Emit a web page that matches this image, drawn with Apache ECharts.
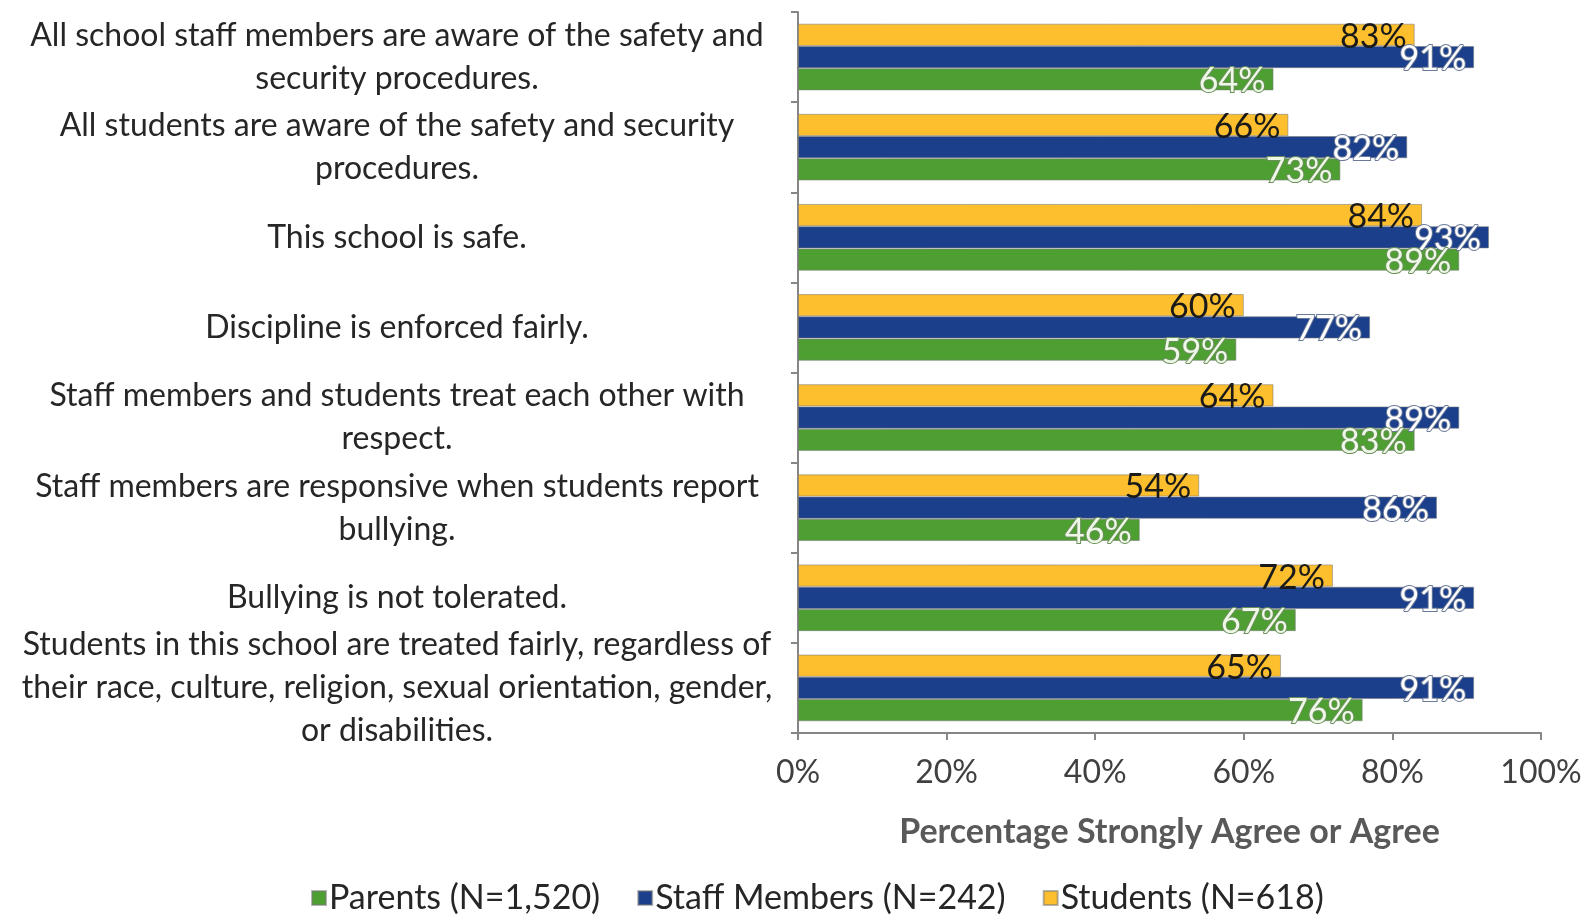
<!DOCTYPE html>
<html>
<head>
<meta charset="utf-8">
<script src="https://cdn.jsdelivr.net/npm/echarts@6/dist/echarts.min.js"></script>
<style>
    html, body { margin: 0; padding: 0; background: #fff; }
    #chart { width: 1596px; height: 915px; }
</style>
</head>
<body>
<div id="chart"></div>
<script>
var categories = [
    'All school staff members are aware of the safety and\nsecurity procedures.',
    'All students are aware of the safety and security\nprocedures.',
    'This school is safe.',
    'Discipline is enforced fairly.',
    'Staff members and students treat each other with\nrespect.',
    'Staff members are responsive when students report\nbullying.',
    'Bullying is not tolerated.',
    'Students in this school are treated fairly, regardless of\ntheir race, culture, religion, sexual orientation, gender,\nor disabilities.'
];
var studentsValues = [83, 66, 84, 60, 64, 54, 72, 65];
var staffValues    = [91, 82, 93, 77, 89, 86, 91, 91];
var parentsValues  = [64, 73, 89, 59, 83, 46, 67, 76];
var seriesNames    = ['Parents (N=1,520)', 'Staff Members (N=242)', 'Students (N=618)'];
var xTicks         = [0, 20, 40, 60, 80, 100];

var FONT = 'Lato';

/* Build one bar series, bars sit in series order from top to bottom. */
function makeSeries(name, values, color, labelStyle)
{
    return {
        name: name,
        type: 'bar',
        data: values,
        barGap: '0%',
        barCategoryGap: '26%',
        itemStyle: {color: color, borderColor: 'rgba(120,120,120,0.55)', borderWidth: 1},
        label: Object.assign({
            show: true,
            position: 'insideRight',
            distance: 8,
            offset: [0, 2],
            fontFamily: FONT,
            fontSize: 34,
            formatter: '{c}%'
        }, labelStyle)
    };
}

var chart = echarts.init(document.getElementById('chart'));
chart.setOption({
    animation: false,
    grid: {left: 798, right: 55, top: 12, bottom: 182, containLabel: false},
    legend: {
        data: seriesNames,
        left: 306,
        top: 876,
        itemWidth: 14,
        itemHeight: 14,
        itemGap: 37,
        icon: 'rect',
        textStyle: {fontFamily: FONT, fontSize: 34, color: '#262626', padding: [0, 0, 0, -2]}
    },
    xAxis: {
        type: 'value',
        min: xTicks[0],
        max: xTicks[xTicks.length - 1],
        interval: 20,
        name: 'Percentage Strongly Agree or Agree',
        nameLocation: 'middle',
        nameGap: 82,
        nameTextStyle: {fontFamily: FONT, fontSize: 34, fontWeight: 'bold', color: '#595959'},
        axisLine: {show: true, lineStyle: {color: '#868686', width: 2}},
        axisTick: {show: true, length: 7, lineStyle: {color: '#868686', width: 2}},
        splitLine: {show: false},
        axisLabel: {formatter: '{value}%', fontFamily: FONT, fontSize: 32, color: '#404040', margin: 24}
    },
    yAxis: {
        type: 'category',
        data: categories,
        inverse: true,
        axisLine: {show: true, lineStyle: {color: '#868686', width: 2}},
        axisTick: {show: true, length: 7, lineStyle: {color: '#868686', width: 2}},
        axisLabel: {
            fontFamily: FONT,
            fontSize: 32,
            lineHeight: 43,
            color: '#262626',
            align: 'center',
            margin: 401,
            padding: [4, 0, 0, 0]
        }
    },
    series: [
        makeSeries(seriesNames[2], studentsValues, '#FDBF2D', {color: '#1a1a1a'}),
        makeSeries(seriesNames[1], staffValues, '#1B3F8B', {color: '#ffffff', textBorderColor: '#6b7a99', textBorderWidth: 2}),
        makeSeries(seriesNames[0], parentsValues, '#4E9F32', {color: '#eef8e6', textBorderColor: '#6d8f5e', textBorderWidth: 2})
    ]
});
</script>
</body>
</html>
